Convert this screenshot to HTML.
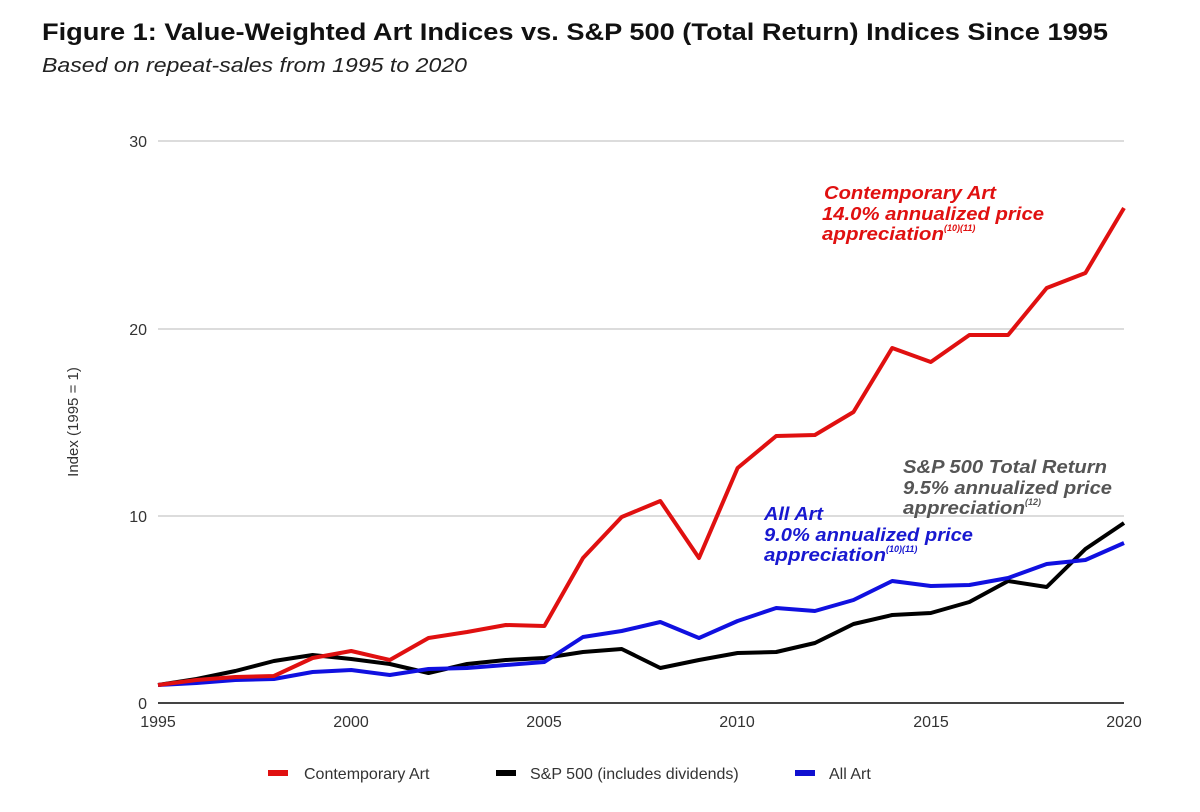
<!DOCTYPE html>
<html><head><meta charset="utf-8"><style>
html,body{margin:0;padding:0;background:#fff;}
svg{display:block;font-family:"Liberation Sans",Arial,sans-serif;}
</style></head><body>
<svg width="1200" height="812" viewBox="0 0 1200 812">
<rect width="1200" height="812" fill="#fff"/>
<text x="42" y="40" font-size="24" font-weight="bold" fill="#111" textLength="1066" lengthAdjust="spacingAndGlyphs">Figure 1: Value-Weighted Art Indices vs. S&amp;P 500 (Total Return) Indices Since 1995</text>
<text x="42" y="72" font-size="20" font-style="italic" fill="#222" textLength="425" lengthAdjust="spacingAndGlyphs">Based on repeat-sales from 1995 to 2020</text>
<g stroke="#d0d0d0" stroke-width="1.5">
<line x1="158" y1="141" x2="1124" y2="141"/>
<line x1="158" y1="329" x2="1124" y2="329"/>
<line x1="158" y1="516" x2="1124" y2="516"/>
</g>
<line x1="158" y1="703" x2="1124" y2="703" stroke="#444" stroke-width="2"/>
<g font-size="16" fill="#333" text-anchor="end">
<text x="147" y="147">30</text><text x="147" y="335">20</text><text x="147" y="522">10</text><text x="147" y="709">0</text>
</g>
<g font-size="16" fill="#333" text-anchor="middle">
<text x="158" y="727">1995</text><text x="351" y="727">2000</text><text x="544" y="727">2005</text><text x="737" y="727">2010</text><text x="931" y="727">2015</text><text x="1124" y="727">2020</text>
</g>
<text transform="translate(78,422) rotate(-90)" font-size="15" fill="#333" text-anchor="middle">Index (1995 = 1)</text>
<g fill="none" stroke-width="4" stroke-linejoin="round">
<polyline stroke="#000" points="158,685 196.6,679 235.3,671 273.9,661 312.6,655 351.2,659 389.8,664 428.5,673 467.1,664 505.8,660 544.4,658 583,652 621.7,649 660.3,668 699,660 737.6,653 776.2,652 814.9,643 853.5,624 892.2,615 930.8,613 969.4,602 1008.1,581 1046.7,587 1085.4,549 1124,523"/>
<polyline stroke="#1010e0" points="158,685 196.6,683 235.3,680 273.9,679 312.6,672 351.2,670 389.8,675 428.5,669 467.1,668 505.8,665 544.4,662 583,637 621.7,631 660.3,622 699,638 737.6,621 776.2,608 814.9,611 853.5,600 892.2,581 930.8,586 969.4,585 1008.1,578 1046.7,564 1085.4,560 1124,543"/>
<polyline stroke="#e01010" points="158,685 196.6,680 235.3,677 273.9,676 312.6,658 351.2,651 389.8,660 428.5,638 467.1,632 505.8,625 544.4,626 583,558 621.7,517 660.3,501 699,558 737.6,468 776.2,436 814.9,435 853.5,412 892.2,348 930.8,362 969.4,335 1008.1,335 1046.7,288 1085.4,273 1124,208"/>
</g>
<g font-size="18" font-weight="bold" font-style="italic">
<g fill="#e01010"><text x="824" y="199" textLength="172" lengthAdjust="spacingAndGlyphs">Contemporary Art</text><text x="822" y="220" textLength="222" lengthAdjust="spacingAndGlyphs">14.0% annualized price</text><text x="822" y="240"><tspan textLength="122" lengthAdjust="spacingAndGlyphs">appreciation</tspan><tspan font-size="9" dy="-9">(10)(11)</tspan></text></g>
<g fill="#555"><text x="903" y="473" textLength="204" lengthAdjust="spacingAndGlyphs">S&amp;P 500 Total Return</text><text x="903" y="494" textLength="209" lengthAdjust="spacingAndGlyphs">9.5% annualized price</text><text x="903" y="514"><tspan textLength="122" lengthAdjust="spacingAndGlyphs">appreciation</tspan><tspan font-size="9" dy="-9">(12)</tspan></text></g>
<g fill="#1818d0"><text x="764" y="520" textLength="59" lengthAdjust="spacingAndGlyphs">All Art</text><text x="764" y="541" textLength="209" lengthAdjust="spacingAndGlyphs">9.0% annualized price</text><text x="764" y="561"><tspan textLength="122" lengthAdjust="spacingAndGlyphs">appreciation</tspan><tspan font-size="9" dy="-9">(10)(11)</tspan></text></g>
</g>
<g font-size="16" fill="#333">
<rect x="268" y="770" width="20" height="6" fill="#e01010"/><text x="304" y="779">Contemporary Art</text>
<rect x="496" y="770" width="20" height="6" fill="#000"/><text x="530" y="779">S&amp;P 500 (includes dividends)</text>
<rect x="795" y="770" width="20" height="6" fill="#1010d0"/><text x="829" y="779">All Art</text>
</g>
</svg>
</body></html>
